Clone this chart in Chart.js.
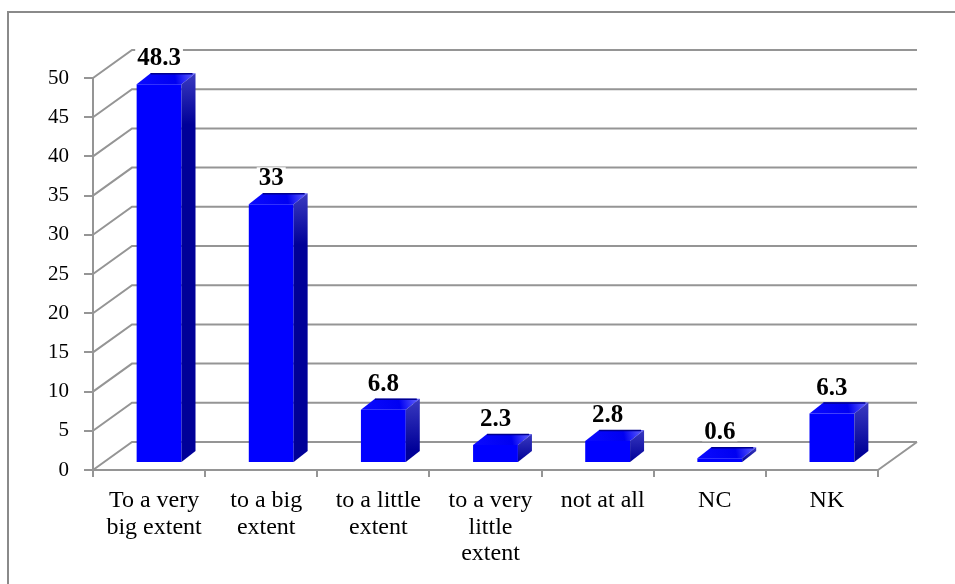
<!DOCTYPE html>
<html>
<head>
<meta charset="utf-8">
<script src="https://cdn.jsdelivr.net/npm/chart.js@4.4.1/dist/chart.umd.min.js"></script>
<style>
  html, body { margin: 0; padding: 0; background: #ffffff; }
  #wrap { position: relative; width: 955px; height: 584px; }
</style>
</head>
<body>
<div id="wrap"><canvas id="chart" width="955" height="584"></canvas></div>
<script>
// Answer categories (multi-line labels) and their shares in percent
const categories = [
  ["To a very", "big extent"],
  ["to a big", "extent"],
  ["to a little", "extent"],
  ["to a very", "little", "extent"],
  "not at all",
  "NC",
  "NK"
];
const shares = [48.3, 33, 6.8, 2.3, 2.8, 0.6, 6.3];

// Value axis range and step
const axisMin = 0;
const axisMax = 50;
const axisStep = 5;

// 3D look: wall depth, bar placement inside the depth, bar thickness
const WALL = { dx: 39, dy: -28 };
const SHIFT = { dx: 10, dy: -7 };
const BAR = { dx: 14, dy: -11 };
const GRID = '#959595';
const SERIF = '"Liberation Serif", "Times New Roman", serif';

// Outer frame around the whole chart
const framePlugin = {
  id: 'frame',
  beforeDraw(chart) {
    const ctx = chart.ctx;
    ctx.save();
    ctx.strokeStyle = '#8a8a8a';
    ctx.lineWidth = 2;
    ctx.beginPath();
    ctx.moveTo(8, 700);
    ctx.lineTo(8, 12);
    ctx.lineTo(1000, 12);
    ctx.stroke();
    ctx.restore();
  }
};

// Back wall, side wall and floor grid lines drawn in perspective
const wallsPlugin = {
  id: 'walls',
  beforeDatasetsDraw(chart) {
    const { ctx, chartArea, scales } = chart;
    const y = scales.y;
    ctx.save();
    ctx.strokeStyle = GRID;
    ctx.lineWidth = 2;
    ctx.lineCap = 'butt';
    ctx.beginPath();
    y.ticks.forEach(t => {
      const py = y.getPixelForValue(t.value);
      ctx.moveTo(chartArea.left, py);
      ctx.lineTo(chartArea.left + WALL.dx, py + WALL.dy);
      ctx.lineTo(chartArea.right + WALL.dx, py + WALL.dy);
    });
    const p0 = y.getPixelForValue(axisMin);
    ctx.moveTo(chartArea.right, p0);
    ctx.lineTo(chartArea.right + WALL.dx, p0 + WALL.dy);
    ctx.stroke();
    ctx.restore();
  },
  // front faces are drawn by the library, moved into the depth of the plot
  beforeDatasetDraw(chart) {
    chart.ctx.save();
    chart.ctx.translate(SHIFT.dx, SHIFT.dy);
  },
  afterDatasetDraw(chart) {
    chart.ctx.restore();
  }
};

// Top and side faces of each bar, plus the value labels
const boxPlugin = {
  id: 'box',
  afterDatasetsDraw(chart) {
    const ctx = chart.ctx;
    const meta = chart.getDatasetMeta(0);
    const values = chart.data.datasets[0].data;
    ctx.save();
    meta.data.forEach((el, i) => {
      const p = el.getProps(['x', 'y', 'base', 'width'], true);
      const l = p.x - p.width / 2 + SHIFT.dx;
      const r = p.x + p.width / 2 + SHIFT.dx;
      const t = p.y + SHIFT.dy;
      const b = p.base + SHIFT.dy;

      // top face
      const gTop = ctx.createLinearGradient(l, t, r + BAR.dx, t + BAR.dy);
      gTop.addColorStop(0, '#0a0aff');
      gTop.addColorStop(0.65, '#0000f2');
      gTop.addColorStop(1, '#6a6aff');
      ctx.fillStyle = gTop;
      ctx.beginPath();
      ctx.moveTo(l, t);
      ctx.lineTo(r, t);
      ctx.lineTo(r + BAR.dx, t + BAR.dy);
      ctx.lineTo(l + BAR.dx, t + BAR.dy);
      ctx.closePath();
      ctx.fill();
      ctx.strokeStyle = '#000090';
      ctx.lineWidth = 1.5;
      ctx.beginPath();
      ctx.moveTo(l + BAR.dx, t + BAR.dy + 0.5);
      ctx.lineTo(r + BAR.dx - 3, t + BAR.dy + 0.5);
      ctx.stroke();

      // side face
      const gSide = ctx.createLinearGradient(r, t + BAR.dy, r, Math.min(b, t + 40));
      gSide.addColorStop(0, '#3a3ac0');
      gSide.addColorStop(1, '#000098');
      ctx.fillStyle = gSide;
      ctx.beginPath();
      ctx.moveTo(r, t);
      ctx.lineTo(r + BAR.dx, t + BAR.dy);
      ctx.lineTo(r + BAR.dx, b + BAR.dy);
      ctx.lineTo(r, b);
      ctx.closePath();
      ctx.fill();

      // value label with a white backing
      const text = String(values[i]);
      ctx.font = 'bold 25px ' + SERIF;
      ctx.textAlign = 'center';
      ctx.textBaseline = 'alphabetic';
      const cx = p.x + SHIFT.dx;
      const by = t + BAR.dy - 8;
      const w = ctx.measureText(text).width;
      ctx.fillStyle = '#ffffff';
      ctx.fillRect(cx - w / 2 - 2, by - 18, w + 4, 20);
      ctx.fillStyle = '#000000';
      ctx.fillText(text, cx, by);
    });
    ctx.restore();
  }
};

new Chart(document.getElementById('chart'), {
  type: 'bar',
  data: {
    labels: categories,
    datasets: [{
      data: shares,
      backgroundColor: '#0000ff',
      borderWidth: 0,
      barPercentage: 0.4,
      categoryPercentage: 1.0,
      clip: false
    }]
  },
  options: {
    responsive: false,
    animation: false,
    events: [],
    layout: { padding: { left: 8, top: 78, right: 77, bottom: 0 } },
    plugins: { legend: { display: false }, tooltip: { enabled: false } },
    scales: {
      x: {
        grid: { offset: true, drawOnChartArea: false, drawTicks: true, tickLength: 7, color: GRID, lineWidth: 2 },
        border: { display: true, color: GRID, width: 2 },
        ticks: { color: '#000000', font: { family: SERIF, size: 24, lineHeight: 1.1 }, padding: 11, labelOffset: 5, maxRotation: 0, autoSkip: false },
        afterFit(s) { s.height = 114; }
      },
      y: {
        min: axisMin,
        max: axisMax,
        grid: { drawOnChartArea: false, drawTicks: true, tickLength: 9, color: GRID, lineWidth: 2 },
        border: { display: true, color: GRID, width: 2 },
        ticks: { stepSize: axisStep, color: '#000000', font: { family: SERIF, size: 21 }, padding: 15 },
        afterFit(s) { s.width = 85; }
      }
    }
  },
  plugins: [framePlugin, wallsPlugin, boxPlugin]
});
</script>
</body>
</html>
